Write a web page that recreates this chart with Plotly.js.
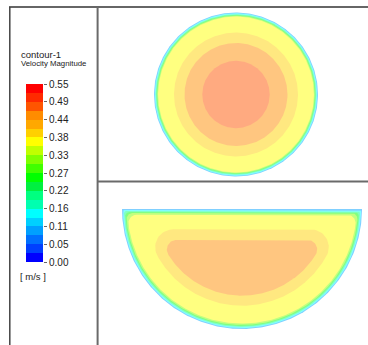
<!DOCTYPE html>
<html><head><meta charset="utf-8">
<script src="https://cdn.plot.ly/plotly-3.0.1.min.js"></script>
<style>html,body{margin:0;padding:0;background:#fff;overflow:hidden}#chart{width:368px;height:345px}</style>
</head><body><div id="chart"></div>
<script>
// ---- data ----
const legendTitle = 'contour-1';
const legendVariable = 'Velocity Magnitude';
const legendUnits = '[ m/s ]';
const vMin = 0.00;
const vMax = 0.55;
const bandCount = 20;
const tickValues = [0.000, 0.055, 0.110, 0.165, 0.220, 0.275, 0.330, 0.385, 0.440, 0.495, 0.550];
const tickLabels = ['0.00', '0.05', '0.11', '0.16', '0.22', '0.27', '0.33', '0.38', '0.44', '0.49', '0.55'];
const bandColors = ['#0000FF', '#0040FF', '#0070FF', '#00A0FF', '#00D0FF', '#00FFFF', '#00FFB0', '#00FF80', '#00F040', '#00FF00',
                    '#40FF00', '#80FF00', '#C0FF00', '#FFFF00', '#FFD000', '#FFA800', '#FF8C00', '#FF5500', '#FF2A00', '#FF0000'];

// circular duct section: contour boundaries (r/R) and the band filled inside each
const circleRadius = [1.000, 0.990, 0.980, 0.970, 0.960, 0.950, 0.756, 0.628, 0.411];
const circleBand   = [3, 5, 7, 9, 11, 13, 14, 16, 17];

// semicircular duct section: contour boundaries (radius/R, top edge y/R, corner rounding /R)
const semiRadius = [1.000, 0.992, 0.984, 0.975, 0.966, 0.955, 0.806, 0.7225];
const semiTop    = [0.000, -0.008, -0.016, -0.025, -0.034, -0.048, -0.169, -0.258];
const semiFillet = [0.000, 0.010, 0.020, 0.035, 0.050, 0.070, 0.150, 0.080];
const semiBand   = [3, 5, 7, 9, 11, 13, 14, 16];

// ---- helpers ----
const W = 368, H = 345;
const px = x => x / W;
const py = y => 1 - y / H;
function lighten(hex) {
  const n = parseInt(hex.slice(1), 16);
  const r = (n >> 16) & 255, g = (n >> 8) & 255, b = n & 255;
  const m = c => Math.round(c + (255 - c) * 0.5);
  return 'rgb(' + m(r) + ',' + m(g) + ',' + m(b) + ')';
}
function circlePts(r) {
  const xs = [], ys = [], n = 360;
  for (let i = 0; i <= n; i++) { const t = 2 * Math.PI * i / n; xs.push(r * Math.cos(t)); ys.push(r * Math.sin(t)); }
  return [xs, ys];
}
function semiPts(rho, T, rc) {
  const xs = [], ys = [];
  const cy = T - rc;
  const xc = Math.sqrt((rho - rc) ** 2 - cy ** 2);
  const al = Math.atan2(cy, xc);
  const push = (x, y) => { xs.push(x); ys.push(y); };
  push(-xc, T); push(xc, T);
  const nf = 20, na = 240;
  for (let i = 0; i <= nf; i++) { const a = Math.PI / 2 + (al - Math.PI / 2) * i / nf; push(xc + rc * Math.cos(a), cy + rc * Math.sin(a)); }
  for (let i = 0; i <= na; i++) { const a = al + (-Math.PI - 2 * al) * i / na; push(rho * Math.cos(a), rho * Math.sin(a)); }
  for (let i = 0; i <= nf; i++) { const a = (Math.PI - al) + (Math.PI / 2 - (Math.PI - al)) * i / nf; push(-xc + rc * Math.cos(a), cy + rc * Math.sin(a)); }
  return [xs, ys];
}

const traces = [];
circleRadius.forEach((r, i) => {
  const [xs, ys] = circlePts(r);
  traces.push({ type: 'scatter', mode: 'lines', x: xs, y: ys, xaxis: 'x', yaxis: 'y', fill: 'toself',
    fillcolor: lighten(bandColors[circleBand[i]]), line: { width: 0 }, hoverinfo: 'skip', showlegend: false });
});
semiRadius.forEach((r, i) => {
  const [xs, ys] = semiPts(r, semiTop[i], semiFillet[i]);
  traces.push({ type: 'scatter', mode: 'lines', x: xs, y: ys, xaxis: 'x2', yaxis: 'y2', fill: 'toself',
    fillcolor: lighten(bandColors[semiBand[i]]), line: { width: 0 }, hoverinfo: 'skip', showlegend: false });
});

// colour legend as a banded heatmap
const step = (vMax - vMin) / bandCount;
const bandCenters = bandColors.map((c, k) => vMin + (k + 0.5) * step);
const colorscale = [];
bandColors.forEach((c, k) => { colorscale.push([k / bandCount, c]); colorscale.push([(k + 1) / bandCount, c]); });
traces.push({ type: 'heatmap', x: [0], y: bandCenters, z: bandCenters.map(v => [v]), zmin: vMin, zmax: vMax,
  colorscale: colorscale, showscale: false, xaxis: 'x3', yaxis: 'y3', hoverinfo: 'skip' });

// ---- layout ----
const c1 = { cx: 236, cy: 94.5, s: 82 };
const c2 = { cx: 242, cy: 209, s: 120 };
const hidden = { visible: false, fixedrange: true, showgrid: false, zeroline: false };
const layout = {
  width: W, height: H, margin: { l: 0, r: 0, t: 0, b: 0 },
  paper_bgcolor: '#ffffff', plot_bgcolor: 'rgba(0,0,0,0)',
  font: { family: 'Liberation Sans, Arial, sans-serif', size: 10, color: '#222' },
  showlegend: false,
  xaxis: Object.assign({ domain: [px(97), 1], range: [(97 - c1.cx) / c1.s, (368 - c1.cx) / c1.s] }, hidden),
  yaxis: Object.assign({ domain: [py(181), py(7)], range: [-(181 - c1.cy) / c1.s, (c1.cy - 7) / c1.s] }, hidden),
  xaxis2: Object.assign({ domain: [px(97), 1], range: [(97 - c2.cx) / c2.s, (368 - c2.cx) / c2.s], anchor: 'y2' }, hidden),
  yaxis2: Object.assign({ domain: [0, py(181)], range: [-(345 - c2.cy) / c2.s, (c2.cy - 181) / c2.s], anchor: 'x2' }, hidden),
  xaxis3: Object.assign({ domain: [px(26), px(43)], range: [-0.5, 0.5], anchor: 'y3' }, hidden),
  yaxis3: { domain: [py(262), py(84)], range: [vMin, vMax], anchor: 'x3', side: 'right', fixedrange: true,
    showgrid: false, zeroline: false, showline: false, ticks: 'outside', ticklen: 3, tickwidth: 1, tickcolor: '#666',
    tickvals: tickValues, ticktext: tickLabels, tickfont: { size: 10, color: '#222' } },
  annotations: [
    { text: legendTitle, xref: 'paper', yref: 'paper', x: px(18.5), y: py(54.5), xanchor: 'left', yanchor: 'middle', showarrow: false, font: { size: 9.5, color: '#222' } },
    { text: legendVariable, xref: 'paper', yref: 'paper', x: px(18.5), y: py(63.5), xanchor: 'left', yanchor: 'middle', showarrow: false, font: { size: 7.8, color: '#222' } },
    { text: legendUnits, xref: 'paper', yref: 'paper', x: px(18), y: py(276), xanchor: 'left', yanchor: 'middle', showarrow: false, font: { size: 9.5, color: '#222' } }
  ],
  shapes: [
    { type: 'line', xref: 'paper', yref: 'paper', x0: px(9), x1: 1, y0: py(7), y1: py(7), line: { color: '#333', width: 1.5 } },
    { type: 'line', xref: 'paper', yref: 'paper', x0: px(9.8), x1: px(9.8), y0: 0, y1: py(7), line: { color: '#444', width: 1.5 } },
    { type: 'line', xref: 'paper', yref: 'paper', x0: px(97.6), x1: px(97.6), y0: 0, y1: py(7), line: { color: '#6a6a6a', width: 2 } },
    { type: 'line', xref: 'paper', yref: 'paper', x0: px(97.6), x1: 1, y0: py(181.5), y1: py(181.5), line: { color: '#6a6a6a', width: 2 } }
  ]
};
Plotly.newPlot('chart', traces, layout, { displayModeBar: false, staticPlot: true });
</script></body></html>
